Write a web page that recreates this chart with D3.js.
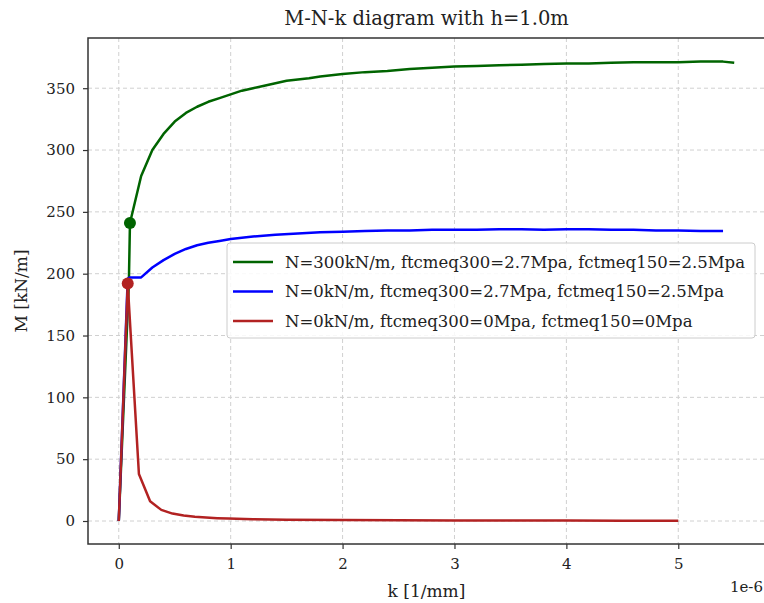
<!DOCTYPE html>
<html>
<head>
<meta charset="utf-8">
<script src="https://cdn.jsdelivr.net/npm/d3@7"></script>
<style>
  body { margin: 0; background: #fff; }
  svg text { font-family: "DejaVu Serif", serif; fill: #222; }
</style>
</head>
<body>
<div id="chart"></div>
<script>
// curvature k in 1e-6 1/mm, moment M in kN/m
const greenK = [0, 0.09, 0.1, 0.2, 0.3, 0.4, 0.5, 0.6, 0.7, 0.8, 0.9, 1.0, 1.1, 1.2, 1.3, 1.4, 1.5, 1.6, 1.7, 1.8, 1.9, 2.0,
  2.2, 2.4, 2.6, 2.8, 3.0, 3.2, 3.4, 3.6, 3.8, 4.0, 4.2, 4.4, 4.6, 4.8, 5.0, 5.2, 5.4, 5.5];
const greenM = [0, 192, 241, 279, 300, 313, 323, 330, 335, 339, 342, 345, 348, 350, 352, 354, 356, 357, 358, 359.5, 360.5, 361.5,
  363, 364, 365.5, 366.5, 367.5, 368, 368.5, 369, 369.5, 370, 370, 370.5, 371, 371, 371, 371.5, 371.5, 370.5];

const blueK = [0, 0.08, 0.1, 0.2, 0.3, 0.4, 0.5, 0.6, 0.7, 0.8, 0.9, 1.0, 1.2, 1.4, 1.6, 1.8, 2.0, 2.2, 2.4, 2.6, 2.8, 3.0,
  3.2, 3.4, 3.6, 3.8, 4.0, 4.2, 4.4, 4.6, 4.8, 5.0, 5.2, 5.4];
const blueM = [0, 196, 197, 197, 205, 211, 216, 220, 223, 225, 226.5, 228, 230, 231.5, 232.5, 233.5, 234, 234.5, 235, 235, 235.5, 235.5,
  235.5, 236, 236, 235.5, 236, 236, 235.5, 235.5, 235, 235, 234.5, 234.5];

const redK = [0, 0.08, 0.18, 0.28, 0.38, 0.48, 0.58, 0.68, 0.78, 0.88, 0.98, 1.2, 1.5, 2.0, 2.5, 3.0, 3.5, 4.0, 4.5, 5.0];
const redM = [0, 192, 38, 16, 9, 6, 4.5, 3.5, 2.8, 2.3, 2, 1.5, 1.1, 0.8, 0.6, 0.5, 0.4, 0.35, 0.3, 0.3];

// cracking points marked with a dot
const dotK = [0.1, 0.08];
const dotM = [241, 192];

const seriesNames = [
  "N=300kN/m, ftcmeq300=2.7Mpa, fctmeq150=2.5Mpa",
  "N=0kN/m, ftcmeq300=2.7Mpa, fctmeq150=2.5Mpa",
  "N=0kN/m, ftcmeq300=0Mpa, fctmeq150=0Mpa"
];
const seriesColors = ["#006400", "#0000ff", "#b22222"];

const xTicks = [0, 1, 2, 3, 4, 5];
const yTicks = [0, 50, 100, 150, 200, 250, 300, 350];

const width = 764, height = 603;
const margin = { top: 38, right: -1, bottom: 59, left: 88 };

const svg = d3.select("#chart").append("svg")
  .attr("width", width)
  .attr("height", height);

const x = d3.scaleLinear().domain([-0.275, 5.775]).range([margin.left, width - margin.right]);
const y = d3.scaleLinear().domain([-18.6, 390.6]).range([height - margin.bottom, margin.top]);

// grid
const grid = svg.append("g").attr("stroke", "#d0d0d0").attr("stroke-dasharray", "4,3").attr("stroke-width", 1);
grid.selectAll(".gx").data(xTicks).enter().append("line")
  .attr("x1", d => x(d)).attr("x2", d => x(d))
  .attr("y1", margin.top).attr("y2", height - margin.bottom);
grid.selectAll(".gy").data(yTicks).enter().append("line")
  .attr("x1", margin.left).attr("x2", width - margin.right)
  .attr("y1", d => y(d)).attr("y2", d => y(d));

// lines
const series = [
  { k: greenK, m: greenM },
  { k: blueK, m: blueM },
  { k: redK, m: redM }
];
const line = d3.line().x(d => x(d[0])).y(d => y(d[1]));
series.forEach((s, i) => {
  svg.append("path")
    .datum(s.k.map((k, j) => [k, s.m[j]]))
    .attr("d", line)
    .attr("fill", "none")
    .attr("stroke", seriesColors[i])
    .attr("stroke-width", 2.5)
    .attr("stroke-linejoin", "round");
});

svg.selectAll(".dot").data(dotK).enter().append("circle")
  .attr("cx", d => x(d))
  .attr("cy", (d, i) => y(dotM[i]))
  .attr("r", 6)
  .attr("fill", (d, i) => i === 0 ? seriesColors[0] : seriesColors[2]);

// axes
const xAxis = svg.append("g")
  .attr("transform", `translate(0,${height - margin.bottom})`)
  .call(d3.axisBottom(x).tickValues(xTicks).tickFormat(d3.format("d")).tickSize(5).tickPadding(9));
const yAxis = svg.append("g")
  .attr("transform", `translate(${margin.left},0)`)
  .call(d3.axisLeft(y).tickValues(yTicks).tickFormat(d3.format("d")).tickSize(5).tickPadding(8));
[xAxis, yAxis].forEach(a => {
  a.select(".domain").remove();
  a.selectAll(".tick line").attr("stroke", "#333").attr("stroke-width", 1.2);
  a.selectAll(".tick text").style("font-family", "DejaVu Serif, serif").style("font-size", "15px").attr("fill", "#222");
});

// frame
svg.append("rect")
  .attr("x", margin.left).attr("y", margin.top)
  .attr("width", width - margin.right - margin.left)
  .attr("height", height - margin.bottom - margin.top)
  .attr("fill", "none").attr("stroke", "#333").attr("stroke-width", 1.5);

// labels
svg.append("text").attr("x", x(2.75)).attr("y", 25).attr("text-anchor", "middle")
  .style("font-size", "19.5px").text("M-N-k diagram with h=1.0m");
svg.append("text").attr("x", x(2.75)).attr("y", 597).attr("text-anchor", "middle")
  .style("font-size", "17px").text("k [1/mm]");
svg.append("text").attr("transform", `translate(27,${y(186)}) rotate(-90)`).attr("text-anchor", "middle")
  .style("font-size", "17px").text("M [kN/m]");
svg.append("text").attr("x", 763).attr("y", 592).attr("text-anchor", "end")
  .style("font-size", "15px").text("1e-6");

// legend
const legend = svg.append("g").attr("transform", "translate(227,243)");
legend.append("rect").attr("width", 528).attr("height", 95).attr("rx", 3)
  .attr("fill", "#fff").attr("fill-opacity", 0.85).attr("stroke", "#ccc");
seriesNames.forEach((name, i) => {
  const yy = 19 + i * 29.5;
  legend.append("line").attr("x1", 6).attr("x2", 46).attr("y1", yy).attr("y2", yy)
    .attr("stroke", seriesColors[i]).attr("stroke-width", 2.5);
  legend.append("text").attr("x", 58).attr("y", yy + 5.5).style("font-size", "16.5px").text(name);
});
</script>
</body>
</html>
